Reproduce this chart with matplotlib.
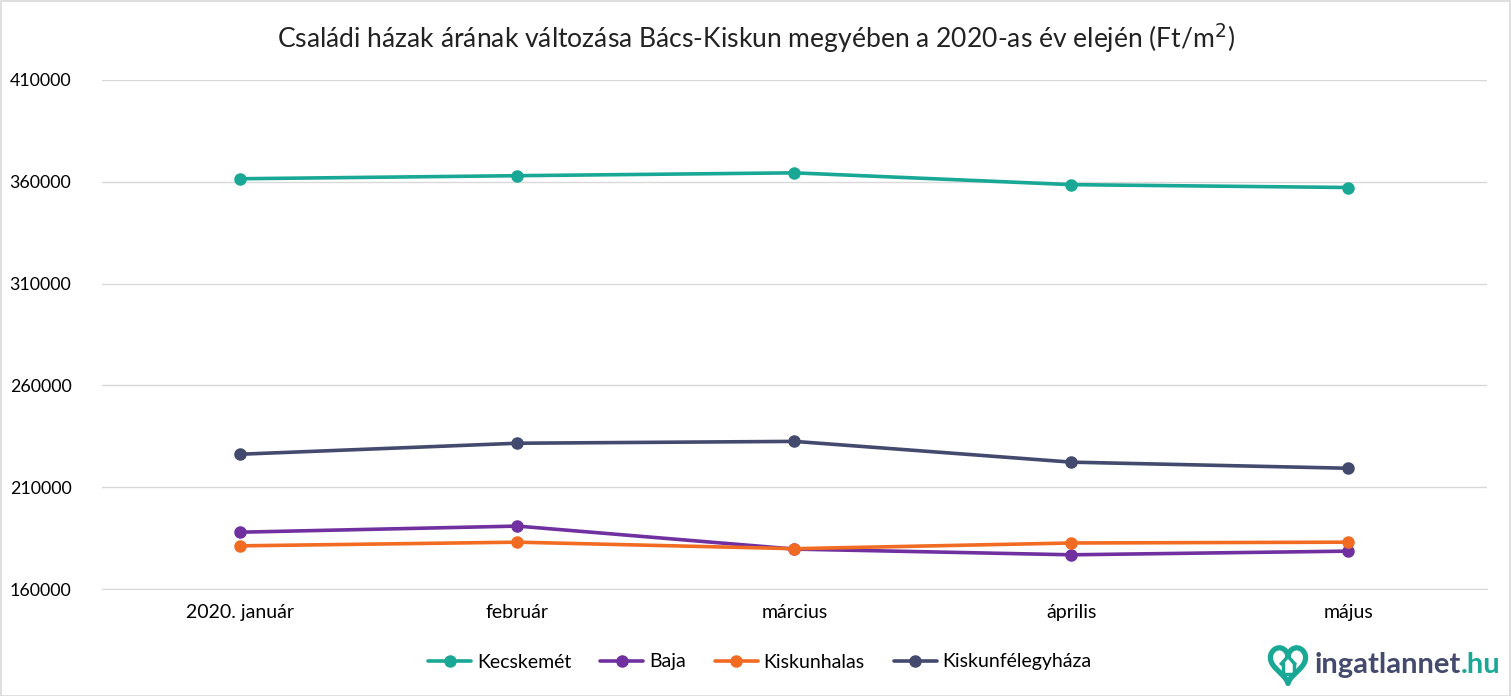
import numpy as np
import matplotlib
matplotlib.use("Agg")
import matplotlib.pyplot as plt
from matplotlib.patches import Rectangle

plt.rcParams["font.family"] = ["Lato", "DejaVu Sans"]

months = ["2020. január", "február", "március", "április", "május"]
kecskemet = [361500, 363000, 364400, 358600, 357200]
baja = [187900, 190900, 179600, 176800, 178600]
kiskunhalas = [181200, 183000, 179800, 182600, 183000]
felegyhaza = [226200, 231600, 232500, 222300, 219300]

series = [
    ("Kecskemét", kecskemet, "#1aa896"),
    ("Baja", baja, "#7030a0"),
    ("Kiskunhalas", kiskunhalas, "#f26b22"),
    ("Kiskunfélegyháza", felegyhaza, "#434a6e"),
]

W, H = 1511, 696
fig = plt.figure(figsize=(W / 100, H / 100), dpi=100)
fig.patch.set_facecolor("white")
fig.patches.append(Rectangle((0.5 / W, 0.5 / H), 1 - 1.5 / W, 1 - 1.5 / H,
                             transform=fig.transFigure, fill=False,
                             edgecolor="#d9d9d9", linewidth=1.2))

ax = fig.add_axes([102 / W, 1 - 589 / H, (1487 - 102) / W, (589 - 80) / H])
x = np.arange(len(months))
lines = []
for name, vals, col in series:
    ln, = ax.plot(x, vals, color=col, linewidth=2.6, marker="o",
                  markersize=8, label=name, solid_capstyle="round")
    lines.append(ln)

ax.set_xlim(-0.5, len(months) - 0.5)
ax.set_ylim(160000, 410000)
ax.set_yticks(np.arange(160000, 410001, 50000))
ax.set_yticklabels([str(v) for v in range(160000, 410001, 50000)])
ax.set_xticks(x)
ax.set_xticklabels(months)
ax.grid(axis="y", color="#d9d9d9", linewidth=1)
ax.set_axisbelow(True)
for s in ax.spines.values():
    s.set_visible(False)
ax.spines["bottom"].set_visible(True)
ax.spines["bottom"].set_color("#d9d9d9")
ax.tick_params(axis="both", length=0, colors="#000000")
ax.tick_params(axis="x", pad=11, labelsize=14)
ax.tick_params(axis="y", pad=22, labelsize=12.8)

fig.text(0.5, 1 - 38 / H, "Családi házak árának változása Bács-Kiskun megyében a 2020-as év elején (Ft/m$^2$)",
         ha="center", va="center", fontsize=19.1, color="#222222")

fig.legend(handles=lines, loc="center", bbox_to_anchor=(760 / W, 1 - 662 / H),
           ncol=4, frameon=False, fontsize=14, handlelength=2.2,
           columnspacing=1.5, handletextpad=0.3)

# logo
ly = 1 - 665 / H
t = np.linspace(0, 2 * np.pi, 200)
hx = 16 * np.sin(t) ** 3
hy = 13 * np.cos(t) - 5 * np.cos(2 * t) - 2 * np.cos(3 * t) - np.cos(4 * t)
lax = fig.add_axes([1266 / W, 1 - 686 / H, 44 / W, 42 / H])
lax.plot(hx, hy, color="#1aa896", linewidth=3.8)
lax.plot([-6, 0, 6], [-1, 5, -1], color="#1aa896", linewidth=2.5)
lax.plot([-5, -5, 5, 5], [-1, -9, -9, -1], color="#1aa896", linewidth=2.5)
lax.set_xlim(-20, 20)
lax.set_ylim(-19, 15)
lax.axis("off")
logo = fig.text(1315 / W, ly, "ingatlannet", ha="left", va="center", fontsize=21,
                fontweight="bold", color="#434a6e")
fig.canvas.draw()
bb = logo.get_window_extent(fig.canvas.get_renderer())
fig.text(bb.x1 / W, ly, ".hu", ha="left", va="center", fontsize=21,
         fontweight="bold", color="#1aa896")

fig.savefig("out.png", dpi=100)
